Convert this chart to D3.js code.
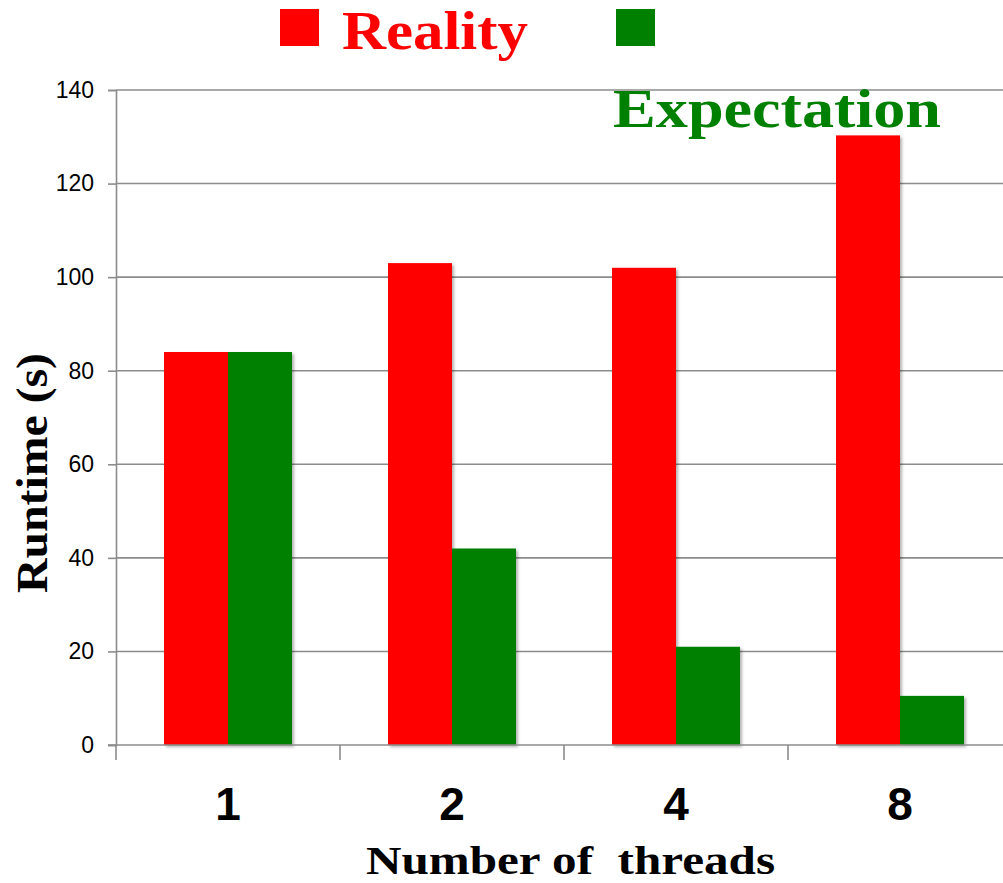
<!DOCTYPE html>
<html>
<head>
<meta charset="utf-8">
<script src="https://cdn.jsdelivr.net/npm/d3@7"></script>
<style>
  html, body { margin: 0; padding: 0; background: #fff; }
  svg { display: block; }
</style>
</head>
<body>
<svg id="chart" width="1003" height="883"></svg>
<script>
// Runtime vs. thread count: measured vs. ideal linear speedup
const threads = ["1", "2", "4", "8"];
const reality = [84, 103, 102, 130.3];
const expectation = [84, 42, 21, 10.5];
const seriesNames = ["Reality", "Expectation"];
const seriesColors = ["#ff0000", "#008000"];
const yTicks = [0, 20, 40, 60, 80, 100, 120, 140];

const svg = d3.select("#chart");
const plotLeft = 116, plotRight = 1012, plotTop = 90, plotBottom = 745;

const x = d3.scaleBand().domain(threads).range([plotLeft, plotRight]).paddingInner(0).paddingOuter(0);
const inner = d3.scaleBand().domain(seriesNames).range([48, x.bandwidth() - 48]).padding(0);
const y = d3.scaleLinear().domain([0, 140]).range([plotBottom, plotTop]);

// soft shadow under the bars
const defs = svg.append("defs");
const f = defs.append("filter").attr("id", "shadow").attr("x", "-20%").attr("y", "-5%").attr("width", "140%").attr("height", "115%");
f.append("feDropShadow").attr("dx", 2).attr("dy", 2).attr("stdDeviation", 1.5)
  .attr("flood-color", "#000").attr("flood-opacity", 0.3);

// horizontal gridlines
svg.append("g")
  .selectAll("line").data(yTicks.slice(1)).join("line")
  .attr("x1", plotLeft).attr("x2", 1003)
  .attr("y1", d => y(d)).attr("y2", d => y(d))
  .attr("stroke", "#8c8c8c").attr("stroke-width", 1.6);

// y axis
const yAxis = svg.append("g").attr("transform", `translate(${plotLeft},0)`)
  .call(d3.axisLeft(y).tickValues(yTicks).tickSize(8).tickPadding(14));
yAxis.select(".domain").attr("stroke", "#8c8c8c").attr("stroke-width", 1.6);
yAxis.selectAll(".tick line").attr("stroke", "#8c8c8c").attr("stroke-width", 1.6);
yAxis.selectAll(".tick text")
  .attr("font-family", "Liberation Sans, Arial, sans-serif")
  .attr("font-size", 23).attr("fill", "#000");

// bars
const data = threads.map((t, i) => ({ t, vals: [reality[i], expectation[i]] }));
const groups = svg.append("g").selectAll("g").data(data).join("g")
  .attr("transform", d => `translate(${x(d.t)},0)`);
groups.selectAll("rect")
  .data(d => d.vals.map((v, j) => ({ name: seriesNames[j], v, c: seriesColors[j] })))
  .join("rect")
  .attr("x", d => inner(d.name))
  .attr("width", inner.bandwidth())
  .attr("y", d => y(d.v))
  .attr("height", d => plotBottom - y(d.v))
  .attr("fill", d => d.c)
  .attr("filter", "url(#shadow)");

// x axis
const xAxisLine = svg.append("g");
xAxisLine.append("line")
  .attr("x1", plotLeft - 8).attr("x2", 1003).attr("y1", plotBottom).attr("y2", plotBottom)
  .attr("stroke", "#8c8c8c").attr("stroke-width", 1.6);
xAxisLine.selectAll("line.tk").data(threads).join("line").attr("class", "tk")
  .attr("x1", d => x(d)).attr("x2", d => x(d))
  .attr("y1", plotBottom).attr("y2", plotBottom + 15)
  .attr("stroke", "#8c8c8c").attr("stroke-width", 1.6);
svg.append("g").selectAll("text").data(threads).join("text")
  .attr("x", d => x(d) + x.bandwidth() / 2)
  .attr("y", 820)
  .attr("text-anchor", "middle")
  .attr("font-family", "Liberation Sans, Arial, sans-serif")
  .attr("font-weight", "bold").attr("font-size", 46)
  .text(d => d);

// axis titles
svg.append("text")
  .attr("x", 366).attr("y", 874)
  .attr("textLength", 409).attr("lengthAdjust", "spacingAndGlyphs")
  .attr("font-family", "Liberation Serif, Times New Roman, serif")
  .attr("font-weight", "bold").attr("font-size", 40)
  .text("Number of\u00a0 threads");

svg.append("text")
  .attr("transform", "translate(47,473) rotate(-90)")
  .attr("text-anchor", "middle")
  .attr("textLength", 240).attr("lengthAdjust", "spacingAndGlyphs")
  .attr("font-family", "Liberation Serif, Times New Roman, serif")
  .attr("font-weight", "bold").attr("font-size", 44)
  .text("Runtime (s)");

// legend
const legendPos = [
  { sq: [280, 9], tx: [342, 49], len: 186 },
  { sq: [616, 9], tx: [613, 127], len: 328 }
];
seriesNames.forEach((name, i) => {
  const p = legendPos[i];
  svg.append("rect")
    .attr("x", p.sq[0]).attr("y", p.sq[1]).attr("width", 39).attr("height", 37)
    .attr("fill", seriesColors[i]);
  svg.append("text")
    .attr("x", p.tx[0]).attr("y", p.tx[1])
    .attr("textLength", p.len).attr("lengthAdjust", "spacingAndGlyphs")
    .attr("font-family", "Liberation Serif, Times New Roman, serif")
    .attr("font-weight", "bold").attr("font-size", 55)
    .attr("fill", seriesColors[i])
    .text(name);
});
</script>
</body>
</html>
